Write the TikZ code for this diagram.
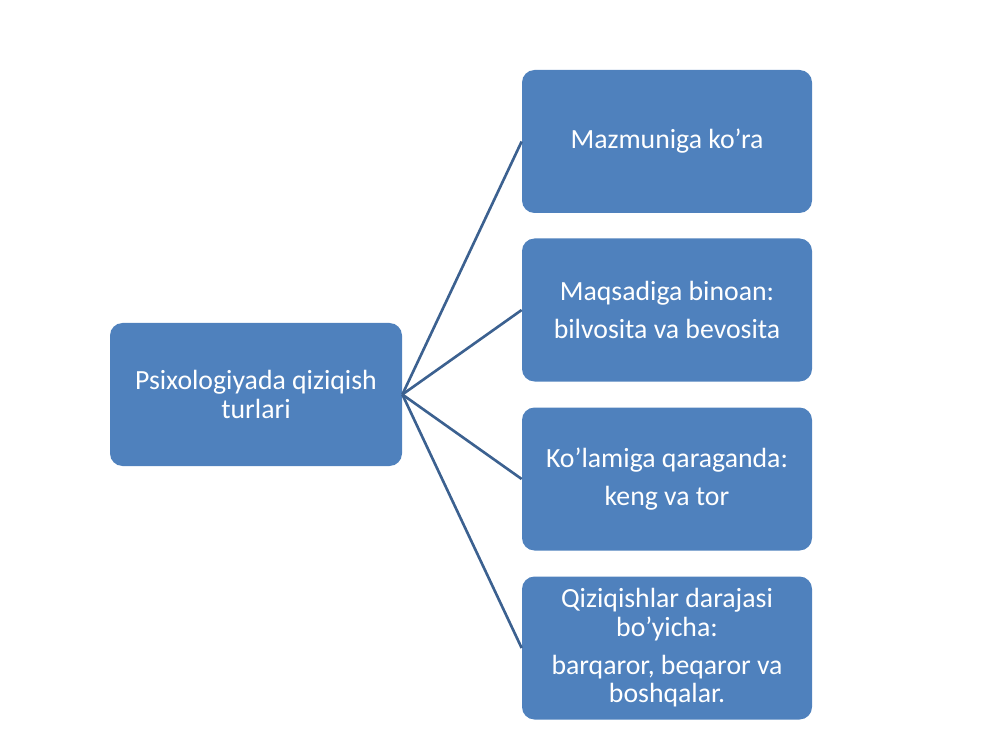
\documentclass[tikz,border=0pt]{standalone}
\usepackage{fontspec}
\setmainfont{Carlito}
\usepackage{tikz}
\definecolor{boxblue}{HTML}{4F81BD}
\definecolor{lineblue}{HTML}{3C6190}

\begin{document}
\begin{tikzpicture}[box/.style={rectangle, rounded corners=0.25cm, fill=boxblue, text=white, align=center, minimum height=2.86cm, font=\fontsize{15.8}{16}\selectfont}, link/.style={draw=lineblue, line width=1.5pt}]
\useasboundingbox (0,0) rectangle (20,15);
\node (root) at (5.12,7.11) [box, minimum width=5.84cm] {Psixologiyada qiziqish\\turlari};
\node (m) at (13.34,12.17) [box, minimum width=5.8cm] {Mazmuniga ko’ra};
\node (q) at (13.34,8.80) [box, minimum width=5.8cm] {Maqsadiga binoan:\\[6pt]bilvosita va bevosita};
\node (k) at (13.34,5.42) [box, minimum width=5.8cm] {Ko’lamiga qaraganda:\\[6pt]keng va tor};
\node (d) at (13.34,2.04) [box, minimum width=5.8cm] {Qiziqishlar darajasi\\bo’yicha:\\[6pt]barqaror, beqaror va\\boshqalar.};
\draw[link] (root.east) -- (m.west);
\draw[link] (root.east) -- (q.west);
\draw[link] (root.east) -- (k.west);
\draw[link] (root.east) -- (d.west);
\end{tikzpicture}
\end{document}
